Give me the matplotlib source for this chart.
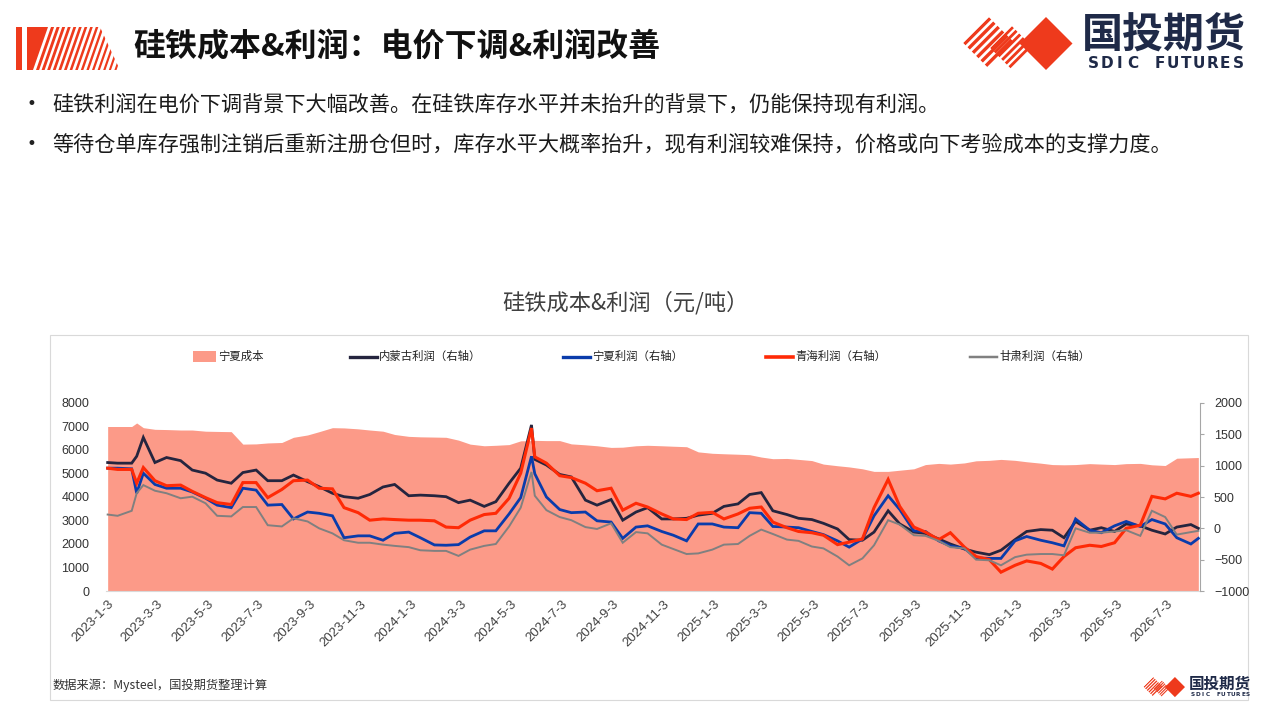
#!/usr/bin/env python3
"""
Ferrosilicon cost & profit chart (SDIC Futures slide style), saved as out.png.
"""

import numpy as np
import matplotlib
matplotlib.use('Agg')
import matplotlib.pyplot as plt
import matplotlib.dates as mdates
from matplotlib.patches import Polygon, Rectangle
from matplotlib.lines import Line2D

plt.rcParams['font.family'] = ['Noto Sans CJK SC', 'DejaVu Sans']

# ---- data ----
dates = [
	'2023-01-03', '2023-01-15', '2023-02-01', '2023-02-07', '2023-02-15', '2023-03-01', '2023-03-15',
	'2023-04-01', '2023-04-15', '2023-05-01', '2023-05-15', '2023-06-01', '2023-06-15', '2023-07-01',
	'2023-07-15', '2023-08-01', '2023-08-15', '2023-09-01', '2023-09-15', '2023-10-01', '2023-10-15',
	'2023-11-01', '2023-11-15',
	'2023-12-01', '2023-12-15', '2024-01-01', '2024-01-15', '2024-02-01', '2024-02-15', '2024-03-01',
	'2024-03-15', '2024-04-01', '2024-04-15', '2024-05-01', '2024-05-15', '2024-05-28', '2024-06-01',
	'2024-06-15', '2024-07-01', '2024-07-15', '2024-08-01', '2024-08-15', '2024-09-01', '2024-09-15',
	'2024-10-01', '2024-10-15',
	'2024-11-01', '2024-11-15', '2024-12-01', '2024-12-15', '2025-01-01', '2025-01-15', '2025-02-01',
	'2025-02-15', '2025-03-01', '2025-03-15', '2025-04-01', '2025-04-15', '2025-05-01', '2025-05-15',
	'2025-06-01', '2025-06-15', '2025-07-01', '2025-07-15', '2025-08-01', '2025-08-15', '2025-09-01',
	'2025-09-15', '2025-10-01', '2025-10-15', '2025-11-01', '2025-11-15', '2025-12-01', '2025-12-15',
	'2026-01-01', '2026-01-15', '2026-02-01', '2026-02-15', '2026-03-01', '2026-03-15', '2026-04-01',
	'2026-04-15', '2026-05-01', '2026-05-15', '2026-06-01', '2026-06-15', '2026-07-01', '2026-07-15',
	'2026-08-01', '2026-08-10',
]

cost_ningxia = [
	7000, 7000, 7000, 7150, 6950, 6880, 6870, 6850, 6850, 6800, 6790, 6780, 6250, 6260, 6300, 6320,
	6540, 6640, 6780, 6950, 6940, 6900, 6850,
	6800, 6660, 6580, 6560, 6550, 6540, 6420, 6250, 6180, 6200, 6230, 6390, 6400, 6410, 6400, 6400,
	6260, 6220, 6180, 6110, 6120, 6180, 6200,
	6180, 6160, 6140, 5920, 5860, 5840, 5820, 5800, 5700, 5630, 5640, 5600, 5550, 5400, 5330, 5280,
	5200, 5090, 5090, 5140, 5200,
	5380, 5430, 5400, 5450, 5540, 5560, 5600, 5560, 5500, 5440, 5380, 5370, 5380, 5420, 5400, 5380,
	5420, 5430, 5370, 5340, 5650, 5670, 5680,
]

profit_neimenggu = [
	1050, 1040, 1040, 1150, 1450, 1050, 1130, 1080, 930, 880, 770, 720, 890, 930, 760, 760, 850, 745,
	665, 560, 505, 480, 540,
	660, 700, 520, 530, 520, 505, 410, 450, 350, 425, 720, 960, 1650, 1100, 1010, 860, 820, 450, 370,
	460, 130, 260, 330,
	150, 150, 160, 210, 240, 350, 390, 540, 570, 280, 220, 160, 140, 80, -10, -180, -190, -60, 280, 70,
	-60,
	-80, -170, -250, -330, -380, -420, -350, -180, -50, -20, -30, -150, 110, -30, 10, -50, 70, 40, -30,
	-90, 20, 60, 0,
]

profit_ningxia = [
	960, 960, 950, 560, 880, 700, 640, 640, 580, 480, 370, 330, 640, 610, 370, 380, 150, 260, 240, 200,
	-150, -120, -120,
	-190, -80, -60, -150, -265, -270, -260, -140, -40, -40, 230, 490, 1150, 870, 500, 300, 250, 260,
	120, 100, -160, 20, 40,
	-50, -110, -200, 70, 70, 20, 10, 250, 240, 30, 20, 10, -50, -100, -200, -300, -170, 200, 520, 300,
	-40,
	-50, -200, -280, -320, -470, -480, -480, -200, -130, -190, -230, -280, 150, -30, -70, 40, 110, 30,
	140, 70, -150, -250, -160,
]

profit_qinghai = [
	960, 940, 940, 720, 970, 760, 680, 690, 590, 490, 410, 380, 730, 730, 490, 620, 760, 770, 640, 630,
	330, 250, 130,
	150, 140, 130, 130, 120, 20, 10, 130, 220, 240, 480, 880, 1600, 1140, 1040, 840, 810, 720, 600, 640,
	290, 400, 340,
	230, 150, 140, 240, 255, 150, 230, 320, 340, 100, 10, -50, -70, -110, -260, -220, -170, 330, 780,
	350, 20,
	-60, -180, -70, -300, -450, -500, -700, -590, -520, -560, -650, -450, -310, -270, -290, -230, 0, 50,
	510, 470, 560, 510, 560,
]

profit_gansu = [
	220, 200, 280, 560, 690, 600, 560, 480, 505, 400, 200, 190, 340, 340, 50, 30, 160, 110, 0, -80,
	-190, -230, -230,
	-260, -280, -300, -350, -360, -360, -440, -340, -280, -250, 30, 330, 900, 520, 290, 180, 130, 20,
	-10, 80, -230, -60, -80,
	-260, -330, -410, -400, -340, -260, -250, -120, -20, -90, -180, -200, -290, -320, -450, -590, -480,
	-270, 130, 60, -110,
	-120, -200, -300, -320, -500, -510, -590, -460, -420, -410, -410, -430, 0, -70, -70, -50, -30, -120,
	280, 180, -100, -60, -40,
]

xtick_dates = [
	'2023-01-03', '2023-03-03', '2023-05-03', '2023-07-03', '2023-09-03', '2023-11-03',
	'2024-01-03', '2024-03-03', '2024-05-03', '2024-07-03', '2024-09-03', '2024-11-03',
	'2025-01-03', '2025-03-03', '2025-05-03', '2025-07-03', '2025-09-03', '2025-11-03',
	'2026-01-03', '2026-03-03', '2026-05-03', '2026-07-03',
]

series = [
	('内蒙古利润（右轴）', profit_neimenggu, '#25253F', 2.0),
	('宁夏利润（右轴）', profit_ningxia, '#0A3CAB', 2.0),
	('青海利润（右轴）', profit_qinghai, '#FF2A06', 2.2),
	('甘肃利润（右轴）', profit_gansu, '#808080', 1.4),
]

COST_COLOR = '#FC9A88'
RED = '#EE3A1C'
NAVY_TXT = '#1F2A48'


def draw_logo(ov, ox, oy, s):
	"""SDIC logo: two striped diamonds, one solid diamond, name text."""
	def diamond(cx, cy, h):
		return [(ox + (cx - h) * s, oy + cy * s), (ox + cx * s, oy + (cy - h) * s),
				(ox + (cx + h) * s, oy + cy * s), (ox + cx * s, oy + (cy + h) * s)]

	for cx, cy, h in [(27, 26, 26), (50, 31, 22)]:
		pts = diamond(cx, cy, h)
		clip = Polygon(pts, closed=True, transform=ov.transData)
		left = np.array(pts[0])
		a = np.array(pts[1]) - left
		b = np.array(pts[3]) - left
		n = 6
		for k in range(n):
			b0, b1 = k / n, k / n + 0.55 / n
			poly = [left + b0 * b, left + a + b0 * b, left + a + b1 * b, left + b1 * b]
			p = Polygon(poly, closed=True, facecolor=RED, edgecolor='none')
			ov.add_patch(p)
			p.set_clip_path(clip)
	ov.add_patch(Polygon(diamond(84, 26.5, 26.5), closed=True, facecolor=RED, edgecolor='none'))
	ov.text(ox + 202 * s, oy + 19 * s, '国投期货', fontsize=29.5 * s, fontweight='bold',
			color=NAVY_TXT, ha='center', va='center')
	word = 'SDIC FUTURES'
	step = 158 / len(word)
	for i, ch in enumerate(word):
		ov.text(ox + (125 + step * (i + 0.5)) * s, oy + 46 * s, ch, fontsize=11 * s,
				fontweight='bold', family='DejaVu Sans', color=NAVY_TXT, ha='center', va='center')


def main() -> None:
	x = mdates.date2num(np.array(dates, dtype='datetime64[D]'))

	fig = plt.figure(figsize=(12.8, 7.2), dpi=100)

	# overlay in pixel coordinates for slide decorations
	ov = fig.add_axes([0, 0, 1, 1])
	ov.set_xlim(0, 1280)
	ov.set_ylim(720, 0)
	ov.axis('off')

	# header stripe block
	ov.add_patch(Rectangle((16, 27), 6, 43, facecolor=RED, edgecolor='none'))
	trap = Polygon([(27, 27), (100, 27), (120, 70), (27, 70)], closed=True, transform=ov.transData)
	solid = Polygon([(27, 27), (48, 27), (33, 70), (27, 70)], closed=True, facecolor=RED, edgecolor='none')
	ov.add_patch(solid)
	for i in range(16):
		xb = 36 + i * 5.6
		w = 3.1 - i * 0.07
		p = Polygon([(xb, 70), (xb + w, 70), (xb + w + 15, 27), (xb + 15, 27)], closed=True,
					facecolor=RED, edgecolor='none')
		ov.add_patch(p)
		p.set_clip_path(trap)

	ov.text(133, 47, '硅铁成本&利润：电价下调&利润改善', fontsize=23, fontweight='bold',
			color='#111111', ha='left', va='center')
	draw_logo(ov, 962, 17, 1.0)

	bullets = [
		'硅铁利润在电价下调背景下大幅改善。在硅铁库存水平并未抬升的背景下，仍能保持现有利润。',
		'等待仓单库存强制注销后重新注册仓但时，库存水平大概率抬升，现有利润较难保持，价格或向下考验成本的支撑力度。',
	]
	for yy, txt in zip([104, 144], bullets):
		ov.text(31, yy, '•', fontsize=12, family='DejaVu Sans', color='#222222', ha='center', va='center')
		ov.text(52, yy, txt, fontsize=15.2, color='#1a1a1a', ha='left', va='center')

	# chart frame, title, legend, source
	ov.add_patch(Rectangle((50, 335), 1198, 365, facecolor='none', edgecolor='#D9D9D9', lw=0.8))
	ov.text(625, 303, '硅铁成本&利润（元/吨）', fontsize=16, color='#404040', ha='center', va='center')

	ov.add_patch(Rectangle((193, 351), 23, 11, facecolor=COST_COLOR, edgecolor='none'))
	ov.text(218, 356.5, '宁夏成本', fontsize=8.2, color='#222222', ha='left', va='center')
	for (label, _, color, lw), x0 in zip(series, [350, 563, 766, 970]):
		ov.add_line(Line2D([x0, x0 + 27], [356.5, 356.5], color=color, lw=lw + 0.4))
		ov.text(x0 + 29, 356.5, label, fontsize=8.2, color='#222222', ha='left', va='center')

	ov.text(53, 685, '数据来源：Mysteel，国投期货整理计算', fontsize=8.8, color='#333333',
			ha='left', va='center')
	draw_logo(ov, 1143, 677, 0.38)

	# main chart
	ax = fig.add_axes([106 / 1280, 1 - 591 / 720, (1200 - 106) / 1280, (591 - 403) / 720])
	ax2 = ax.twinx()

	ax.fill_between(x, 0, cost_ningxia, color=COST_COLOR, lw=0)
	for label, vals, color, lw in series:
		ax2.plot(x, vals, color=color, lw=lw, solid_joinstyle='miter')

	ax.set_xlim(mdates.date2num(np.datetime64('2023-01-01')), mdates.date2num(np.datetime64('2026-08-12')))
	ax.set_ylim(0, 8000)
	ax.set_yticks(range(0, 8001, 1000))
	ax2.set_ylim(-1000, 2000)
	ax2.set_yticks(range(-1000, 2001, 500))

	ticks = mdates.date2num(np.array(xtick_dates, dtype='datetime64[D]'))
	tick_labels = ['-'.join(str(int(p)) for p in d.split('-')) for d in xtick_dates]
	ax.set_xticks(ticks)
	ax.set_xticklabels(tick_labels, rotation=45, ha='right', va='top', rotation_mode='anchor',
					   fontsize=9.5, color='#404040', family='Liberation Sans')
	ax.tick_params(axis='x', length=0, pad=5)
	ax.tick_params(axis='y', length=0, pad=12, labelsize=9, labelcolor='#333333',
				   labelfontfamily='Liberation Sans')
	ax2.tick_params(axis='y', length=3, width=0.8, color='#A6A6A6', pad=7, labelsize=9,
					labelcolor='#333333', labelfontfamily='Liberation Sans')

	for sp in ['top', 'left', 'right']:
		ax.spines[sp].set_visible(False)
	ax.spines['bottom'].set_color('#D9D9D9')
	for sp in ['top', 'left', 'bottom']:
		ax2.spines[sp].set_visible(False)
	ax2.spines['right'].set_color('#A6A6A6')
	ax2.spines['right'].set_linewidth(0.8)

	fig.savefig('out.png', dpi=100)
	print('Saved out.png')


if __name__ == '__main__':
	main()
